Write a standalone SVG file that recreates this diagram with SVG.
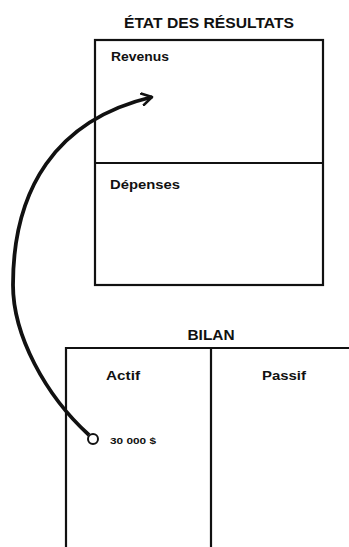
<svg xmlns="http://www.w3.org/2000/svg" width="349" height="547" viewBox="0 0 349 547">
<style>
.t{font-family:"Liberation Sans",Arial,sans-serif;font-weight:bold;fill:#111}
.b{fill:none;stroke:#111;stroke-width:2.2}
</style>
<defs>
<marker id="ah" viewBox="0 0 14 14" refX="11" refY="7" markerWidth="14" markerHeight="14" markerUnits="userSpaceOnUse" orient="auto">
<path d="M1,1 L11,7 L1,13" fill="none" stroke="#111" stroke-width="2.6" stroke-linecap="round" stroke-linejoin="round"/>
</marker>
</defs>
<rect width="349" height="547" fill="#fff"/>
<g id="etat">
<text class="t" x="209" y="28" font-size="15" text-anchor="middle" textLength="170" lengthAdjust="spacingAndGlyphs">ÉTAT DES RÉSULTATS</text>
<rect class="b" x="95" y="40" width="228" height="245"/>
<line class="b" x1="95" y1="163" x2="323" y2="163"/>
</g>
<g id="revenus">
<text class="t" x="111" y="61" font-size="13" textLength="58" lengthAdjust="spacingAndGlyphs">Revenus</text>
</g>
<g id="depenses">
<text class="t" x="110" y="189" font-size="13" textLength="70" lengthAdjust="spacingAndGlyphs">Dépenses</text>
</g>
<g id="bilan">
<text class="t" x="211" y="340" font-size="15" text-anchor="middle" textLength="47" lengthAdjust="spacingAndGlyphs">BILAN</text>
<path class="b" d="M66,547 V348 H349 M211,348 V547"/>
</g>
<g id="actif">
<text class="t" x="123" y="380" font-size="13" text-anchor="middle" textLength="34" lengthAdjust="spacingAndGlyphs">Actif</text>
<circle cx="93" cy="439" r="5" fill="#fff" stroke="#111" stroke-width="2"/>
<text class="t" x="110" y="444" font-size="9.5" textLength="46" lengthAdjust="spacingAndGlyphs">30 000 $</text>
</g>
<g id="passif">
<text class="t" x="284" y="380" font-size="13" text-anchor="middle" textLength="44" lengthAdjust="spacingAndGlyphs">Passif</text>
</g>
<g id="connectors">
<path d="M89,435 C45,395 13,335 13,285 C13,190 55,120 152,97" fill="none" stroke="#111" stroke-width="3.8" marker-end="url(#ah)"/>
</g>
</svg>
